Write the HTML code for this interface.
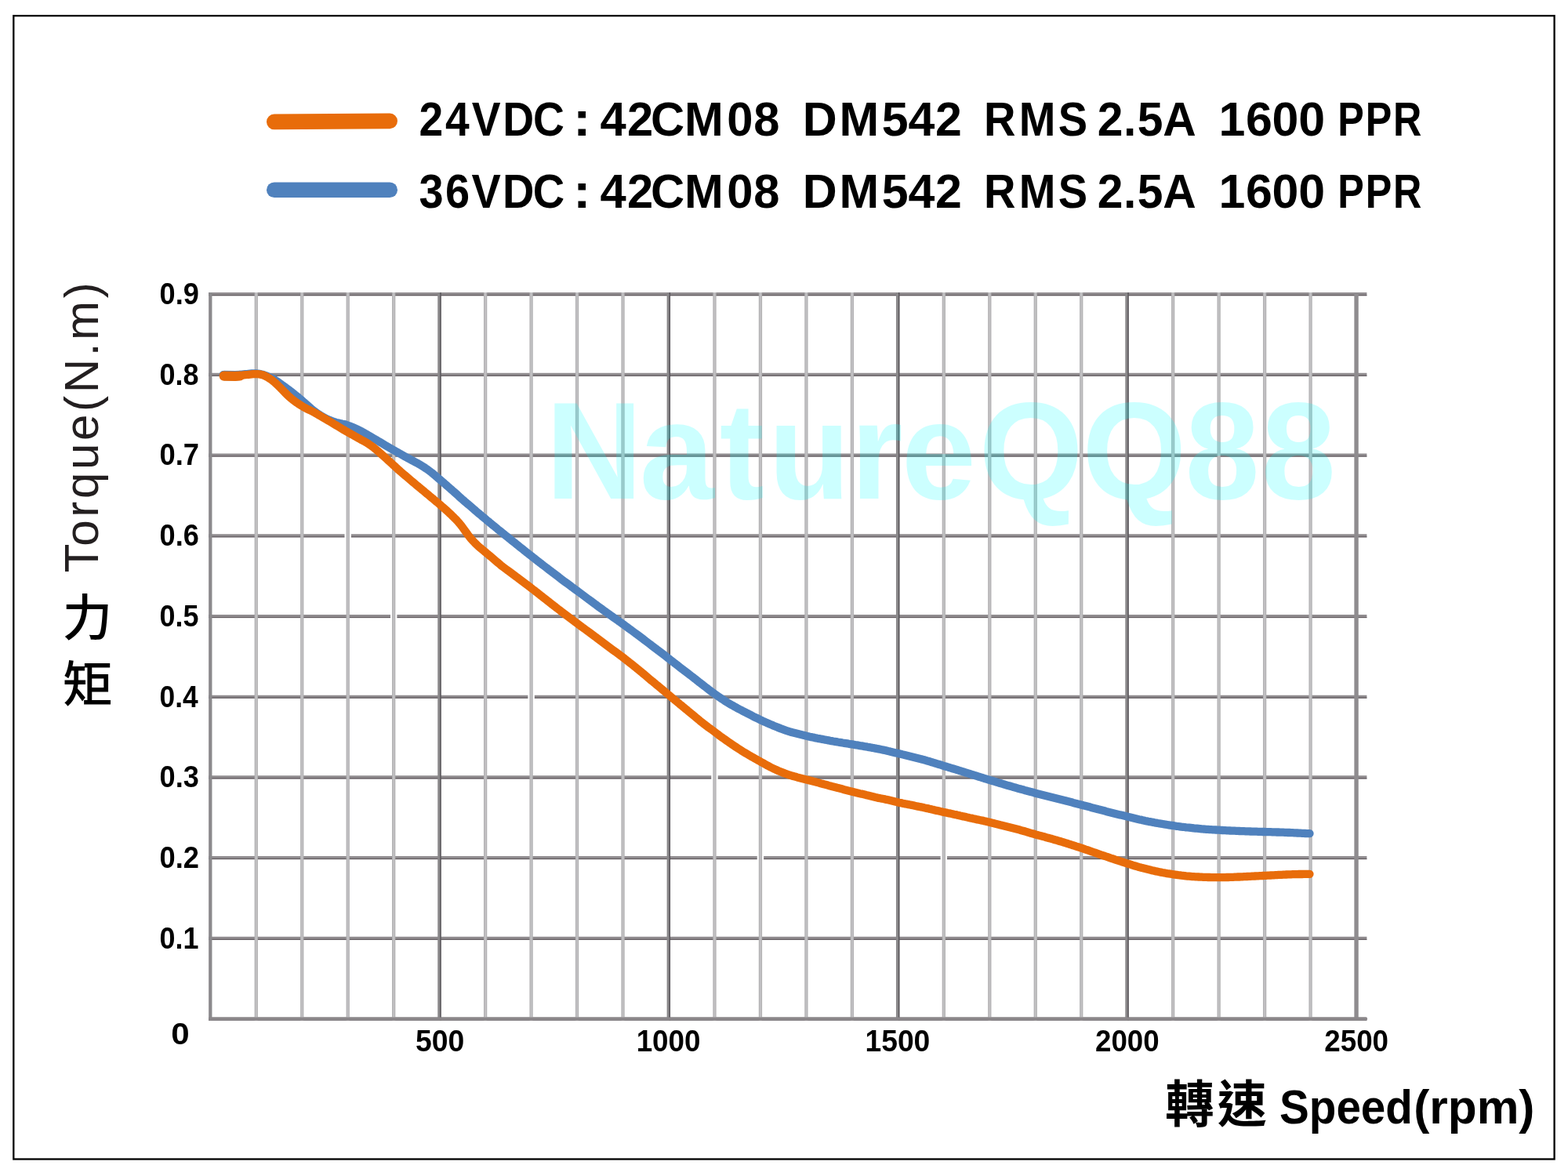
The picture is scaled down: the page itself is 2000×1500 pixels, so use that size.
<!DOCTYPE html>
<html lang="zh-Hant"><head><meta charset="utf-8"><title>42CM08 Torque-Speed Curve</title>
<style>html,body{margin:0;padding:0;background:#fff}body{width:2000px;height:1500px;overflow:hidden}svg{display:block}</style></head><body>
<svg width="2000" height="1500" viewBox="0 0 2000 1500" font-family="&quot;Liberation Sans&quot;, sans-serif" font-weight="700" fill="#000" role="img" aria-label="Torque-speed curve of 42CM08 with DM542 at 24VDC and 36VDC">
<rect width="2000" height="1500" fill="#fff"/>
<g fill="none">
<path d="M266.15 375.20H1743.4 M266.15 477.91H1743.4 M266.15 580.62H1743.4 M266.15 683.33H1743.4 M266.15 786.04H1743.4 M266.15 888.75H1743.4 M266.15 991.46H1743.4 M266.15 1094.17H1743.4 M266.15 1196.88H1743.4 M266.15 1299.59H1743.4" stroke="#908c8f" stroke-width="4.2"/>
<path d="M266.15 376.60H1743.4 M266.15 479.31H1743.4 M266.15 582.02H1743.4 M266.15 684.73H1743.4 M266.15 787.44H1743.4 M266.15 890.15H1743.4 M266.15 992.86H1743.4 M266.15 1095.57H1743.4 M266.15 1198.28H1743.4 M266.15 1300.99H1743.4" stroke="#4b4347" stroke-width="1.1" opacity="0.7"/>
<path d="M497.98 786.04h8.4 M673.39 888.75h8.4 M907.27 991.46h8.4 M965.74 1094.17h8.4 M1199.62 1094.17h8.4 M439.51 683.33h8.4" stroke="#fff" stroke-width="6"/>
<path d="M326.77 373.1V1301.7 M385.24 373.1V1301.7 M443.71 373.1V1301.7 M502.18 373.1V1301.7 M619.12 373.1V1301.7 M677.59 373.1V1301.7 M736.06 373.1V1301.7 M794.53 373.1V1301.7 M911.47 373.1V1301.7 M969.94 373.1V1301.7 M1028.41 373.1V1301.7 M1086.88 373.1V1301.7 M1203.82 373.1V1301.7 M1262.29 373.1V1301.7 M1320.76 373.1V1301.7 M1379.23 373.1V1301.7 M1496.17 373.1V1301.7 M1554.64 373.1V1301.7 M1613.11 373.1V1301.7 M1671.58 373.1V1301.7" stroke="#b3b2b4" stroke-width="4.3"/>
<path d="M326.77 373.1V1301.7 M385.24 373.1V1301.7 M443.71 373.1V1301.7 M502.18 373.1V1301.7 M619.12 373.1V1301.7 M677.59 373.1V1301.7 M736.06 373.1V1301.7 M794.53 373.1V1301.7 M911.47 373.1V1301.7 M969.94 373.1V1301.7 M1028.41 373.1V1301.7 M1086.88 373.1V1301.7 M1203.82 373.1V1301.7 M1262.29 373.1V1301.7 M1320.76 373.1V1301.7 M1379.23 373.1V1301.7 M1496.17 373.1V1301.7 M1554.64 373.1V1301.7 M1613.11 373.1V1301.7 M1671.58 373.1V1301.7" stroke="#c3c2c4" stroke-width="1.8"/>
<path d="M560.45 373.1V1301.7 M852.80 373.1V1301.7 M1145.15 373.1V1301.7 M1437.50 373.1V1301.7" stroke="#8a888a" stroke-width="4.4"/>
<path d="M562.00 373.1V1301.7 M854.35 373.1V1301.7 M1146.70 373.1V1301.7 M1439.05 373.1V1301.7" stroke="#49454a" stroke-width="1.3" opacity="0.85"/>
<path d="M268.30 373.1V1301.7" stroke="#8b898c" stroke-width="4.3"/>
<path d="M1730.05 373.1V1301.7" stroke="#8f8c8f" stroke-width="5.4"/>
<path d="M268.34999999999997 1299.59H1741.9" stroke="#8b878a" stroke-width="4.3" stroke-linecap="round"/>
</g>
<text transform="translate(696.00 636.00) scale(0.9723 1)" x="0 123.06 228.02 292.08 400.22 466.79 568.27 703.83 838.66 938.63" font-size="176" fill="#00ffff" fill-opacity="0.2">NatureQQ88</text>
<g fill="none" stroke-width="10.3" stroke-linecap="round" stroke-linejoin="round">
<path d="M284.8 478.2 L286.8 478.4 L288.8 478.5 L290.8 478.5 L292.8 478.5 L294.8 478.5 L296.8 478.5 L298.8 478.4 L300.8 478.3 L302.8 478.2 L304.8 478.0 L306.8 477.8 L308.8 477.6 L310.8 477.4 L312.8 477.2 L314.8 477.0 L316.8 476.8 L318.8 476.6 L320.8 476.5 L322.8 476.4 L324.8 476.4 L326.8 476.5 L328.8 476.6 L330.8 476.9 L332.8 477.3 L334.8 477.7 L336.8 478.4 L338.8 479.1 L340.8 479.9 L342.8 480.7 L344.8 481.6 L346.8 482.5 L348.8 483.6 L350.8 484.7 L352.8 486.0 L354.8 487.4 L356.8 488.9 L358.8 490.3 L360.8 491.8 L362.8 493.2 L364.8 494.7 L366.8 496.1 L368.8 497.6 L370.8 499.2 L372.8 500.7 L374.8 502.3 L376.8 503.9 L378.8 505.5 L380.8 507.1 L382.8 508.8 L384.8 510.5 L386.8 512.3 L388.8 514.0 L390.8 515.8 L392.8 517.6 L394.8 519.4 L396.8 521.2 L398.8 522.9 L400.8 524.4 L402.8 525.9 L404.8 527.2 L406.8 528.6 L408.8 529.9 L410.8 531.1 L412.8 532.2 L414.8 533.3 L416.8 534.3 L418.8 535.3 L420.8 536.1 L422.8 536.9 L424.8 537.6 L426.8 538.3 L428.8 538.9 L430.8 539.4 L432.8 539.8 L434.8 540.2 L436.8 540.7 L438.8 541.1 L440.8 541.6 L442.8 542.3 L444.8 543.0 L446.8 543.7 L448.8 544.5 L450.8 545.4 L452.8 546.2 L454.8 547.1 L456.8 548.1 L458.8 549.1 L460.8 550.1 L462.8 551.2 L464.8 552.3 L466.8 553.5 L468.8 554.6 L470.8 555.8 L472.8 556.9 L474.8 558.1 L476.8 559.3 L478.8 560.5 L480.8 561.6 L482.8 562.8 L484.8 564.0 L486.8 565.2 L488.8 566.4 L490.8 567.6 L492.8 568.8 L494.8 569.9 L496.8 571.1 L498.8 572.3 L500.8 573.4 L502.8 574.6 L504.8 575.7 L506.8 576.8 L508.8 577.9 L510.8 579.1 L512.8 580.2 L514.8 581.3 L516.8 582.5 L518.8 583.6 L520.8 584.7 L522.8 585.7 L524.8 586.8 L526.8 587.8 L528.8 588.9 L530.8 590.0 L532.8 591.1 L534.8 592.2 L536.8 593.4 L538.8 594.6 L540.8 595.8 L542.8 597.2 L544.8 598.5 L546.8 600.0 L548.8 601.5 L550.8 603.0 L552.8 604.7 L554.8 606.3 L556.8 608.0 L558.8 609.8 L560.8 611.5 L562.8 613.2 L564.8 614.9 L566.8 616.7 L568.8 618.4 L570.8 620.2 L572.8 621.9 L574.8 623.6 L576.8 625.4 L578.8 627.1 L580.8 628.9 L582.8 630.7 L584.8 632.5 L586.8 634.4 L588.8 636.2 L590.8 637.9 L592.8 639.7 L594.8 641.3 L596.8 643.0 L598.8 644.7 L600.8 646.4 L602.8 648.1 L604.8 649.8 L606.8 651.6 L608.8 653.3 L610.8 655.0 L612.8 656.7 L614.8 658.4 L616.8 660.0 L618.8 661.7 L620.8 663.4 L622.8 665.0 L624.8 666.7 L626.8 668.3 L628.8 670.0 L630.8 671.6 L632.8 673.2 L634.8 674.9 L636.8 676.5 L638.8 678.1 L640.8 679.7 L642.8 681.3 L644.8 682.9 L646.8 684.5 L648.8 686.2 L650.8 687.8 L652.8 689.4 L654.8 691.0 L656.8 692.6 L658.8 694.2 L660.8 695.8 L662.8 697.4 L664.8 699.0 L666.8 700.6 L668.8 702.2 L670.8 703.8 L672.8 705.3 L674.8 706.9 L676.8 708.5 L678.8 710.1 L680.8 711.7 L682.8 713.2 L684.8 714.8 L686.8 716.3 L688.8 717.9 L690.8 719.4 L692.8 721.0 L694.8 722.5 L696.8 724.0 L698.8 725.6 L700.8 727.1 L702.8 728.6 L704.8 730.2 L706.8 731.7 L708.8 733.2 L710.8 734.7 L712.8 736.2 L714.8 737.8 L716.8 739.3 L718.8 740.8 L720.8 742.3 L722.8 743.7 L724.8 745.2 L726.8 746.7 L728.8 748.2 L730.8 749.6 L732.8 751.1 L734.8 752.6 L736.8 754.0 L738.8 755.5 L740.8 757.0 L742.8 758.5 L744.8 760.0 L746.8 761.5 L748.8 763.0 L750.8 764.5 L752.8 765.9 L754.8 767.4 L756.8 768.9 L758.8 770.4 L760.8 771.8 L762.8 773.3 L764.8 774.8 L766.8 776.2 L768.8 777.7 L770.8 779.1 L772.8 780.5 L774.8 782.0 L776.8 783.4 L778.8 784.9 L780.8 786.3 L782.8 787.7 L784.8 789.1 L786.8 790.5 L788.8 792.0 L790.8 793.4 L792.8 794.8 L794.8 796.2 L796.8 797.7 L798.8 799.1 L800.8 800.6 L802.8 802.1 L804.8 803.5 L806.8 805.0 L808.8 806.5 L810.8 808.0 L812.8 809.4 L814.8 810.9 L816.8 812.4 L818.8 813.9 L820.8 815.4 L822.8 817.0 L824.8 818.5 L826.8 820.0 L828.8 821.5 L830.8 823.1 L832.8 824.6 L834.8 826.1 L836.8 827.6 L838.8 829.2 L840.8 830.7 L842.8 832.2 L844.8 833.7 L846.8 835.2 L848.8 836.7 L850.8 838.3 L852.8 839.8 L854.8 841.4 L856.8 843.0 L858.8 844.6 L860.8 846.1 L862.8 847.7 L864.8 849.2 L866.8 850.8 L868.8 852.3 L870.8 853.8 L872.8 855.4 L874.8 856.9 L876.8 858.4 L878.8 859.9 L880.8 861.5 L882.8 863.0 L884.8 864.6 L886.8 866.1 L888.8 867.7 L890.8 869.3 L892.8 870.8 L894.8 872.4 L896.8 873.9 L898.8 875.5 L900.8 877.0 L902.8 878.6 L904.8 880.1 L906.8 881.6 L908.8 883.1 L910.8 884.5 L912.8 886.0 L914.8 887.4 L916.8 888.8 L918.8 890.1 L920.8 891.5 L922.8 892.8 L924.8 894.1 L926.8 895.4 L928.8 896.6 L930.8 897.8 L932.8 899.0 L934.8 900.1 L936.8 901.2 L938.8 902.3 L940.8 903.4 L942.8 904.5 L944.8 905.5 L946.8 906.6 L948.8 907.6 L950.8 908.6 L952.8 909.7 L954.8 910.7 L956.8 911.7 L958.8 912.7 L960.8 913.8 L962.8 914.8 L964.8 915.7 L966.8 916.7 L968.8 917.7 L970.8 918.6 L972.8 919.6 L974.8 920.5 L976.8 921.4 L978.8 922.3 L980.8 923.1 L982.8 924.0 L984.8 924.8 L986.8 925.7 L988.8 926.5 L990.8 927.3 L992.8 928.1 L994.8 928.9 L996.8 929.7 L998.8 930.4 L1000.8 931.1 L1002.8 931.8 L1004.8 932.5 L1006.8 933.1 L1008.8 933.7 L1010.8 934.3 L1012.8 934.8 L1014.8 935.3 L1016.8 935.8 L1018.8 936.3 L1020.8 936.8 L1022.8 937.3 L1024.8 937.8 L1026.8 938.3 L1028.8 938.8 L1030.8 939.2 L1032.8 939.7 L1034.8 940.1 L1036.8 940.5 L1038.8 940.9 L1040.8 941.4 L1042.8 941.8 L1044.8 942.1 L1046.8 942.5 L1048.8 942.9 L1050.8 943.3 L1052.8 943.7 L1054.8 944.0 L1056.8 944.4 L1058.8 944.8 L1060.8 945.1 L1062.8 945.5 L1064.8 945.8 L1066.8 946.1 L1068.8 946.5 L1070.8 946.8 L1072.8 947.1 L1074.8 947.5 L1076.8 947.8 L1078.8 948.1 L1080.8 948.4 L1082.8 948.8 L1084.8 949.1 L1086.8 949.4 L1088.8 949.7 L1090.8 950.1 L1092.8 950.4 L1094.8 950.7 L1096.8 951.1 L1098.8 951.4 L1100.8 951.7 L1102.8 952.1 L1104.8 952.4 L1106.8 952.8 L1108.8 953.1 L1110.8 953.5 L1112.8 953.9 L1114.8 954.2 L1116.8 954.6 L1118.8 955.0 L1120.8 955.4 L1122.8 955.8 L1124.8 956.2 L1126.8 956.6 L1128.8 957.0 L1130.8 957.5 L1132.8 958.0 L1134.8 958.4 L1136.8 958.9 L1138.8 959.4 L1140.8 959.9 L1142.8 960.4 L1144.8 960.8 L1146.8 961.3 L1148.8 961.8 L1150.8 962.3 L1152.8 962.7 L1154.8 963.2 L1156.8 963.7 L1158.8 964.2 L1160.8 964.7 L1162.8 965.2 L1164.8 965.7 L1166.8 966.2 L1168.8 966.7 L1170.8 967.2 L1172.8 967.7 L1174.8 968.2 L1176.8 968.8 L1178.8 969.3 L1180.8 969.9 L1182.8 970.5 L1184.8 971.0 L1186.8 971.6 L1188.8 972.3 L1190.8 972.9 L1192.8 973.5 L1194.8 974.1 L1196.8 974.7 L1198.8 975.3 L1200.8 975.9 L1202.8 976.6 L1204.8 977.2 L1206.8 977.8 L1208.8 978.4 L1210.8 979.0 L1212.8 979.6 L1214.8 980.2 L1216.8 980.8 L1218.8 981.4 L1220.8 982.0 L1222.8 982.6 L1224.8 983.3 L1226.8 983.9 L1228.8 984.5 L1230.8 985.1 L1232.8 985.8 L1234.8 986.4 L1236.8 987.0 L1238.8 987.6 L1240.8 988.3 L1242.8 988.9 L1244.8 989.5 L1246.8 990.1 L1248.8 990.8 L1250.8 991.4 L1252.8 992.0 L1254.8 992.6 L1256.8 993.3 L1258.8 993.9 L1260.8 994.5 L1262.8 995.1 L1264.8 995.7 L1266.8 996.3 L1268.8 996.9 L1270.8 997.5 L1272.8 998.1 L1274.8 998.7 L1276.8 999.3 L1278.8 999.9 L1280.8 1000.5 L1282.8 1001.1 L1284.8 1001.7 L1286.8 1002.2 L1288.8 1002.8 L1290.8 1003.4 L1292.8 1004.0 L1294.8 1004.5 L1296.8 1005.1 L1298.8 1005.7 L1300.8 1006.2 L1302.8 1006.8 L1304.8 1007.3 L1306.8 1007.9 L1308.8 1008.4 L1310.8 1009.0 L1312.8 1009.5 L1314.8 1010.1 L1316.8 1010.6 L1318.8 1011.1 L1320.8 1011.7 L1322.8 1012.2 L1324.8 1012.7 L1326.8 1013.2 L1328.8 1013.7 L1330.8 1014.2 L1332.8 1014.7 L1334.8 1015.2 L1336.8 1015.7 L1338.8 1016.2 L1340.8 1016.7 L1342.8 1017.2 L1344.8 1017.7 L1346.8 1018.2 L1348.8 1018.7 L1350.8 1019.2 L1352.8 1019.7 L1354.8 1020.2 L1356.8 1020.7 L1358.8 1021.2 L1360.8 1021.8 L1362.8 1022.3 L1364.8 1022.8 L1366.8 1023.3 L1368.8 1023.9 L1370.8 1024.4 L1372.8 1024.9 L1374.8 1025.5 L1376.8 1026.0 L1378.8 1026.5 L1380.8 1027.0 L1382.8 1027.6 L1384.8 1028.1 L1386.8 1028.6 L1388.8 1029.1 L1390.8 1029.6 L1392.8 1030.2 L1394.8 1030.7 L1396.8 1031.2 L1398.8 1031.7 L1400.8 1032.3 L1402.8 1032.8 L1404.8 1033.3 L1406.8 1033.8 L1408.8 1034.3 L1410.8 1034.9 L1412.8 1035.4 L1414.8 1035.9 L1416.8 1036.4 L1418.8 1036.9 L1420.8 1037.4 L1422.8 1037.9 L1424.8 1038.4 L1426.8 1038.9 L1428.8 1039.4 L1430.8 1039.8 L1432.8 1040.3 L1434.8 1040.8 L1436.8 1041.3 L1438.8 1041.8 L1440.8 1042.2 L1442.8 1042.7 L1444.8 1043.2 L1446.8 1043.7 L1448.8 1044.2 L1450.8 1044.7 L1452.8 1045.2 L1454.8 1045.6 L1456.8 1046.1 L1458.8 1046.5 L1460.8 1047.0 L1462.8 1047.4 L1464.8 1047.8 L1466.8 1048.1 L1468.8 1048.5 L1470.8 1048.9 L1472.8 1049.3 L1474.8 1049.6 L1476.8 1050.0 L1478.8 1050.3 L1480.8 1050.7 L1482.8 1051.0 L1484.8 1051.3 L1486.8 1051.7 L1488.8 1052.0 L1490.8 1052.3 L1492.8 1052.6 L1494.8 1052.9 L1496.8 1053.2 L1498.8 1053.5 L1500.8 1053.8 L1502.8 1054.0 L1504.8 1054.3 L1506.8 1054.6 L1508.8 1054.8 L1510.8 1055.0 L1512.8 1055.3 L1514.8 1055.5 L1516.8 1055.7 L1518.8 1055.9 L1520.8 1056.1 L1522.8 1056.4 L1524.8 1056.6 L1526.8 1056.7 L1528.8 1056.9 L1530.8 1057.1 L1532.8 1057.3 L1534.8 1057.5 L1536.8 1057.6 L1538.8 1057.8 L1540.8 1057.9 L1542.8 1058.1 L1544.8 1058.2 L1546.8 1058.3 L1548.8 1058.4 L1550.8 1058.5 L1552.8 1058.6 L1554.8 1058.7 L1556.8 1058.9 L1558.8 1059.0 L1560.8 1059.1 L1562.8 1059.2 L1564.8 1059.3 L1566.8 1059.4 L1568.8 1059.5 L1570.8 1059.6 L1572.8 1059.7 L1574.8 1059.7 L1576.8 1059.8 L1578.8 1059.9 L1580.8 1060.0 L1582.8 1060.1 L1584.8 1060.1 L1586.8 1060.2 L1588.8 1060.3 L1590.8 1060.4 L1592.8 1060.4 L1594.8 1060.5 L1596.8 1060.6 L1598.8 1060.6 L1600.8 1060.7 L1602.8 1060.7 L1604.8 1060.8 L1606.8 1060.9 L1608.8 1060.9 L1610.8 1061.0 L1612.8 1061.0 L1614.8 1061.1 L1616.8 1061.1 L1618.8 1061.2 L1620.8 1061.2 L1622.8 1061.3 L1624.8 1061.4 L1626.8 1061.4 L1628.8 1061.5 L1630.8 1061.5 L1632.8 1061.6 L1634.8 1061.7 L1636.8 1061.7 L1638.8 1061.8 L1640.8 1061.9 L1642.8 1062.0 L1644.8 1062.0 L1646.8 1062.1 L1648.8 1062.2 L1650.8 1062.3 L1652.8 1062.4 L1654.8 1062.5 L1656.8 1062.6 L1658.8 1062.7 L1660.8 1062.8 L1662.8 1062.9 L1664.8 1063.0 L1666.8 1063.1 L1668.8 1063.1 L1670.5 1063.2" stroke="#4f81bd"/>
<path d="M285.8 479.0L300 479.2L306 478.9" stroke="#4f81bd" stroke-width="12.4"/>
<path d="M284.8 479.0 L286.8 479.1 L288.8 479.2 L290.8 479.3 L292.8 479.3 L294.8 479.4 L296.8 479.4 L298.8 479.4 L300.8 479.4 L302.8 479.3 L304.8 479.1 L306.8 478.9 L308.8 478.7 L310.8 478.4 L312.8 478.2 L314.8 478.0 L316.8 477.8 L318.8 477.6 L320.8 477.4 L322.8 477.2 L324.8 477.1 L326.8 477.1 L328.8 477.2 L330.8 477.4 L332.8 477.7 L334.8 478.2 L336.8 478.9 L338.8 479.9 L340.8 480.9 L342.8 482.1 L344.8 483.4 L346.8 484.8 L348.8 486.4 L350.8 488.1 L352.8 489.9 L354.8 491.8 L356.8 493.8 L358.8 495.9 L360.8 497.9 L362.8 500.0 L364.8 502.0 L366.8 504.0 L368.8 505.9 L370.8 507.7 L372.8 509.3 L374.8 510.8 L376.8 512.3 L378.8 513.8 L380.8 515.1 L382.8 516.4 L384.8 517.7 L386.8 518.9 L388.8 520.0 L390.8 521.1 L392.8 522.1 L394.8 523.0 L396.8 524.0 L398.8 525.0 L400.8 526.1 L402.8 527.2 L404.8 528.3 L406.8 529.5 L408.8 530.7 L410.8 531.9 L412.8 533.1 L414.8 534.2 L416.8 535.4 L418.8 536.5 L420.8 537.7 L422.8 538.9 L424.8 540.1 L426.8 541.3 L428.8 542.5 L430.8 543.7 L432.8 544.9 L434.8 546.1 L436.8 547.3 L438.8 548.5 L440.8 549.7 L442.8 550.8 L444.8 551.9 L446.8 553.1 L448.8 554.2 L450.8 555.3 L452.8 556.4 L454.8 557.6 L456.8 558.7 L458.8 559.8 L460.8 560.9 L462.8 562.0 L464.8 563.1 L466.8 564.2 L468.8 565.4 L470.8 566.7 L472.8 568.1 L474.8 569.5 L476.8 571.1 L478.8 572.7 L480.8 574.3 L482.8 576.0 L484.8 577.8 L486.8 579.6 L488.8 581.4 L490.8 583.2 L492.8 585.0 L494.8 586.8 L496.8 588.6 L498.8 590.4 L500.8 592.3 L502.8 594.1 L504.8 595.9 L506.8 597.8 L508.8 599.6 L510.8 601.4 L512.8 603.1 L514.8 604.8 L516.8 606.5 L518.8 608.2 L520.8 609.9 L522.8 611.6 L524.8 613.3 L526.8 615.0 L528.8 616.7 L530.8 618.4 L532.8 620.0 L534.8 621.7 L536.8 623.3 L538.8 625.0 L540.8 626.6 L542.8 628.3 L544.8 630.0 L546.8 631.6 L548.8 633.3 L550.8 635.0 L552.8 636.6 L554.8 638.3 L556.8 640.0 L558.8 641.6 L560.8 643.3 L562.8 645.1 L564.8 646.8 L566.8 648.6 L568.8 650.4 L570.8 652.2 L572.8 654.1 L574.8 655.9 L576.8 657.9 L578.8 659.8 L580.8 661.8 L582.8 663.9 L584.8 666.1 L586.8 668.5 L588.8 671.0 L590.8 673.7 L592.8 676.5 L594.8 679.3 L596.8 682.1 L598.8 684.7 L600.8 687.1 L602.8 689.4 L604.8 691.5 L606.8 693.6 L608.8 695.5 L610.8 697.3 L612.8 699.0 L614.8 700.7 L616.8 702.3 L618.8 704.0 L620.8 705.7 L622.8 707.3 L624.8 709.0 L626.8 710.7 L628.8 712.4 L630.8 714.1 L632.8 715.8 L634.8 717.5 L636.8 719.2 L638.8 720.9 L640.8 722.5 L642.8 724.0 L644.8 725.5 L646.8 727.0 L648.8 728.4 L650.8 729.9 L652.8 731.4 L654.8 732.9 L656.8 734.4 L658.8 735.9 L660.8 737.3 L662.8 738.8 L664.8 740.3 L666.8 741.8 L668.8 743.3 L670.8 744.8 L672.8 746.3 L674.8 747.9 L676.8 749.4 L678.8 751.0 L680.8 752.5 L682.8 754.1 L684.8 755.6 L686.8 757.2 L688.8 758.8 L690.8 760.3 L692.8 761.9 L694.8 763.5 L696.8 765.1 L698.8 766.7 L700.8 768.2 L702.8 769.8 L704.8 771.3 L706.8 772.9 L708.8 774.4 L710.8 776.0 L712.8 777.5 L714.8 779.1 L716.8 780.7 L718.8 782.2 L720.8 783.7 L722.8 785.2 L724.8 786.7 L726.8 788.2 L728.8 789.7 L730.8 791.2 L732.8 792.7 L734.8 794.1 L736.8 795.6 L738.8 797.1 L740.8 798.6 L742.8 800.1 L744.8 801.5 L746.8 803.0 L748.8 804.5 L750.8 805.9 L752.8 807.4 L754.8 808.9 L756.8 810.4 L758.8 811.9 L760.8 813.3 L762.8 814.8 L764.8 816.3 L766.8 817.8 L768.8 819.3 L770.8 820.8 L772.8 822.3 L774.8 823.8 L776.8 825.3 L778.8 826.8 L780.8 828.3 L782.8 829.8 L784.8 831.2 L786.8 832.7 L788.8 834.2 L790.8 835.7 L792.8 837.1 L794.8 838.7 L796.8 840.2 L798.8 841.8 L800.8 843.3 L802.8 844.9 L804.8 846.5 L806.8 848.1 L808.8 849.7 L810.8 851.3 L812.8 852.9 L814.8 854.6 L816.8 856.2 L818.8 857.8 L820.8 859.5 L822.8 861.2 L824.8 862.9 L826.8 864.6 L828.8 866.3 L830.8 868.0 L832.8 869.6 L834.8 871.2 L836.8 872.9 L838.8 874.5 L840.8 876.2 L842.8 877.8 L844.8 879.5 L846.8 881.2 L848.8 882.9 L850.8 884.6 L852.8 886.2 L854.8 887.9 L856.8 889.6 L858.8 891.3 L860.8 892.9 L862.8 894.6 L864.8 896.2 L866.8 897.9 L868.8 899.5 L870.8 901.2 L872.8 902.8 L874.8 904.5 L876.8 906.1 L878.8 907.8 L880.8 909.4 L882.8 911.1 L884.8 912.7 L886.8 914.4 L888.8 916.1 L890.8 917.7 L892.8 919.4 L894.8 921.0 L896.8 922.6 L898.8 924.1 L900.8 925.7 L902.8 927.2 L904.8 928.6 L906.8 930.0 L908.8 931.5 L910.8 933.0 L912.8 934.5 L914.8 936.0 L916.8 937.6 L918.8 939.1 L920.8 940.5 L922.8 941.9 L924.8 943.3 L926.8 944.7 L928.8 946.1 L930.8 947.5 L932.8 948.9 L934.8 950.2 L936.8 951.6 L938.8 952.9 L940.8 954.2 L942.8 955.5 L944.8 956.8 L946.8 958.1 L948.8 959.3 L950.8 960.5 L952.8 961.7 L954.8 962.9 L956.8 964.1 L958.8 965.2 L960.8 966.3 L962.8 967.4 L964.8 968.6 L966.8 969.7 L968.8 970.8 L970.8 971.9 L972.8 973.0 L974.8 974.1 L976.8 975.3 L978.8 976.4 L980.8 977.4 L982.8 978.5 L984.8 979.5 L986.8 980.5 L988.8 981.4 L990.8 982.3 L992.8 983.2 L994.8 984.0 L996.8 984.8 L998.8 985.6 L1000.8 986.4 L1002.8 987.1 L1004.8 987.8 L1006.8 988.5 L1008.8 989.1 L1010.8 989.7 L1012.8 990.3 L1014.8 990.8 L1016.8 991.4 L1018.8 991.9 L1020.8 992.4 L1022.8 992.9 L1024.8 993.4 L1026.8 993.9 L1028.8 994.4 L1030.8 994.9 L1032.8 995.4 L1034.8 995.9 L1036.8 996.5 L1038.8 997.0 L1040.8 997.5 L1042.8 998.1 L1044.8 998.6 L1046.8 999.2 L1048.8 999.7 L1050.8 1000.3 L1052.8 1000.8 L1054.8 1001.3 L1056.8 1001.9 L1058.8 1002.4 L1060.8 1003.0 L1062.8 1003.5 L1064.8 1004.0 L1066.8 1004.5 L1068.8 1005.1 L1070.8 1005.6 L1072.8 1006.1 L1074.8 1006.6 L1076.8 1007.2 L1078.8 1007.7 L1080.8 1008.2 L1082.8 1008.7 L1084.8 1009.2 L1086.8 1009.7 L1088.8 1010.2 L1090.8 1010.7 L1092.8 1011.2 L1094.8 1011.7 L1096.8 1012.2 L1098.8 1012.6 L1100.8 1013.1 L1102.8 1013.6 L1104.8 1014.1 L1106.8 1014.5 L1108.8 1015.0 L1110.8 1015.5 L1112.8 1016.0 L1114.8 1016.5 L1116.8 1017.0 L1118.8 1017.4 L1120.8 1017.9 L1122.8 1018.3 L1124.8 1018.7 L1126.8 1019.0 L1128.8 1019.4 L1130.8 1019.9 L1132.8 1020.3 L1134.8 1020.8 L1136.8 1021.3 L1138.8 1021.8 L1140.8 1022.3 L1142.8 1022.8 L1144.8 1023.2 L1146.8 1023.7 L1148.8 1024.1 L1150.8 1024.6 L1152.8 1025.0 L1154.8 1025.4 L1156.8 1025.7 L1158.8 1026.1 L1160.8 1026.5 L1162.8 1026.9 L1164.8 1027.3 L1166.8 1027.8 L1168.8 1028.2 L1170.8 1028.6 L1172.8 1029.0 L1174.8 1029.4 L1176.8 1029.8 L1178.8 1030.3 L1180.8 1030.7 L1182.8 1031.1 L1184.8 1031.6 L1186.8 1032.0 L1188.8 1032.5 L1190.8 1032.9 L1192.8 1033.4 L1194.8 1033.9 L1196.8 1034.3 L1198.8 1034.8 L1200.8 1035.2 L1202.8 1035.7 L1204.8 1036.1 L1206.8 1036.5 L1208.8 1037.0 L1210.8 1037.4 L1212.8 1037.8 L1214.8 1038.2 L1216.8 1038.7 L1218.8 1039.1 L1220.8 1039.6 L1222.8 1040.0 L1224.8 1040.5 L1226.8 1040.9 L1228.8 1041.4 L1230.8 1041.8 L1232.8 1042.3 L1234.8 1042.7 L1236.8 1043.2 L1238.8 1043.6 L1240.8 1044.1 L1242.8 1044.5 L1244.8 1044.9 L1246.8 1045.4 L1248.8 1045.8 L1250.8 1046.2 L1252.8 1046.6 L1254.8 1047.1 L1256.8 1047.5 L1258.8 1048.0 L1260.8 1048.4 L1262.8 1048.9 L1264.8 1049.4 L1266.8 1049.9 L1268.8 1050.5 L1270.8 1051.0 L1272.8 1051.5 L1274.8 1052.0 L1276.8 1052.6 L1278.8 1053.1 L1280.8 1053.6 L1282.8 1054.1 L1284.8 1054.6 L1286.8 1055.1 L1288.8 1055.6 L1290.8 1056.1 L1292.8 1056.6 L1294.8 1057.1 L1296.8 1057.6 L1298.8 1058.1 L1300.8 1058.6 L1302.8 1059.2 L1304.8 1059.7 L1306.8 1060.3 L1308.8 1060.9 L1310.8 1061.5 L1312.8 1062.1 L1314.8 1062.7 L1316.8 1063.2 L1318.8 1063.8 L1320.8 1064.4 L1322.8 1064.9 L1324.8 1065.5 L1326.8 1066.0 L1328.8 1066.5 L1330.8 1067.1 L1332.8 1067.6 L1334.8 1068.2 L1336.8 1068.7 L1338.8 1069.3 L1340.8 1069.8 L1342.8 1070.4 L1344.8 1071.0 L1346.8 1071.6 L1348.8 1072.1 L1350.8 1072.7 L1352.8 1073.3 L1354.8 1073.9 L1356.8 1074.5 L1358.8 1075.1 L1360.8 1075.7 L1362.8 1076.4 L1364.8 1077.0 L1366.8 1077.6 L1368.8 1078.3 L1370.8 1078.9 L1372.8 1079.6 L1374.8 1080.2 L1376.8 1080.9 L1378.8 1081.5 L1380.8 1082.2 L1382.8 1082.9 L1384.8 1083.6 L1386.8 1084.2 L1388.8 1084.9 L1390.8 1085.6 L1392.8 1086.3 L1394.8 1087.0 L1396.8 1087.7 L1398.8 1088.4 L1400.8 1089.1 L1402.8 1089.8 L1404.8 1090.5 L1406.8 1091.2 L1408.8 1091.8 L1410.8 1092.5 L1412.8 1093.2 L1414.8 1093.9 L1416.8 1094.6 L1418.8 1095.2 L1420.8 1095.9 L1422.8 1096.6 L1424.8 1097.2 L1426.8 1097.9 L1428.8 1098.5 L1430.8 1099.2 L1432.8 1099.8 L1434.8 1100.5 L1436.8 1101.1 L1438.8 1101.7 L1440.8 1102.3 L1442.8 1102.9 L1444.8 1103.6 L1446.8 1104.2 L1448.8 1104.8 L1450.8 1105.4 L1452.8 1106.0 L1454.8 1106.5 L1456.8 1107.1 L1458.8 1107.6 L1460.8 1108.1 L1462.8 1108.6 L1464.8 1109.1 L1466.8 1109.6 L1468.8 1110.1 L1470.8 1110.5 L1472.8 1110.9 L1474.8 1111.4 L1476.8 1111.8 L1478.8 1112.2 L1480.8 1112.6 L1482.8 1113.0 L1484.8 1113.3 L1486.8 1113.7 L1488.8 1114.1 L1490.8 1114.4 L1492.8 1114.7 L1494.8 1115.0 L1496.8 1115.3 L1498.8 1115.6 L1500.8 1115.9 L1502.8 1116.2 L1504.8 1116.4 L1506.8 1116.7 L1508.8 1116.9 L1510.8 1117.1 L1512.8 1117.4 L1514.8 1117.6 L1516.8 1117.7 L1518.8 1117.9 L1520.8 1118.1 L1522.8 1118.2 L1524.8 1118.3 L1526.8 1118.4 L1528.8 1118.5 L1530.8 1118.6 L1532.8 1118.7 L1534.8 1118.8 L1536.8 1118.9 L1538.8 1118.9 L1540.8 1119.0 L1542.8 1119.0 L1544.8 1119.1 L1546.8 1119.1 L1548.8 1119.1 L1550.8 1119.2 L1552.8 1119.2 L1554.8 1119.2 L1556.8 1119.2 L1558.8 1119.1 L1560.8 1119.1 L1562.8 1119.1 L1564.8 1119.0 L1566.8 1119.0 L1568.8 1118.9 L1570.8 1118.8 L1572.8 1118.8 L1574.8 1118.7 L1576.8 1118.6 L1578.8 1118.5 L1580.8 1118.5 L1582.8 1118.4 L1584.8 1118.3 L1586.8 1118.2 L1588.8 1118.1 L1590.8 1118.0 L1592.8 1117.9 L1594.8 1117.8 L1596.8 1117.7 L1598.8 1117.6 L1600.8 1117.5 L1602.8 1117.4 L1604.8 1117.3 L1606.8 1117.2 L1608.8 1117.1 L1610.8 1117.0 L1612.8 1116.9 L1614.8 1116.8 L1616.8 1116.7 L1618.8 1116.6 L1620.8 1116.5 L1622.8 1116.4 L1624.8 1116.3 L1626.8 1116.2 L1628.8 1116.1 L1630.8 1115.9 L1632.8 1115.8 L1634.8 1115.8 L1636.8 1115.7 L1638.8 1115.6 L1640.8 1115.5 L1642.8 1115.4 L1644.8 1115.4 L1646.8 1115.3 L1648.8 1115.2 L1650.8 1115.2 L1652.8 1115.1 L1654.8 1115.1 L1656.8 1115.0 L1658.8 1115.0 L1660.8 1115.0 L1662.8 1114.9 L1664.8 1114.9 L1666.8 1114.8 L1668.8 1114.8 L1670.5 1114.8" stroke="#e86c0a"/>
<path d="M285.8 479.7L300 479.9L306 479.5" stroke="#e86c0a" stroke-width="12.2"/>
</g>
<g fill="none" stroke-width="19.6" stroke-linecap="round">
<path d="M349.8 155.4L497.2 154.4" stroke="#e86c0a"/>
<path d="M349.8 242.3L497.2 242.3" stroke="#4f81bd"/>
</g>
<text transform="translate(534.47 172.90) scale(0.9049 1)" x="0 37.08 74.45 117.99 160.9" font-size="61">24VDC</text>
<text transform="translate(730.99 172.90) scale(1.1084 1)" font-size="61">:</text>
<text transform="translate(765.59 172.90) scale(0.9794 1)" x="0 35.23 65.71 109.58 164.99 199.67" font-size="61">42CM08</text>
<text transform="translate(1023.85 172.90) scale(0.9973 1)" x="0 46.86 101.23 134.92 169.52" font-size="61">DM542</text>
<text transform="translate(1255.06 172.90) scale(0.9183 1)" x="0 48.72 103.11" font-size="61">RMS</text>
<text transform="translate(1399.76 172.90) scale(0.9639 1)" x="0 34.6 52.86 86.55" font-size="61">2.5A</text>
<text transform="translate(1554.51 172.90) scale(0.9973 1)" x="0 34.57 68.2 101.99" font-size="61">1600</text>
<text transform="translate(1706.16 172.90) scale(0.8244 1)" x="0 43.21 85.88" font-size="61">PPR</text>
<text transform="translate(534.47 264.90) scale(0.9166 1)" x="0 36.67 73.24 116.19 158.56" font-size="61">36VDC</text>
<text transform="translate(730.99 264.90) scale(1.1084 1)" font-size="61">:</text>
<text transform="translate(765.59 264.90) scale(0.9794 1)" x="0 35.23 65.71 109.58 164.99 199.67" font-size="61">42CM08</text>
<text transform="translate(1023.85 264.90) scale(0.9973 1)" x="0 46.86 101.23 134.92 169.52" font-size="61">DM542</text>
<text transform="translate(1255.06 264.90) scale(0.9183 1)" x="0 48.72 103.11" font-size="61">RMS</text>
<text transform="translate(1399.76 264.90) scale(0.9639 1)" x="0 34.6 52.86 86.55" font-size="61">2.5A</text>
<text transform="translate(1554.51 264.90) scale(0.9973 1)" x="0 34.57 68.2 101.99" font-size="61">1600</text>
<text transform="translate(1706.16 264.90) scale(0.8244 1)" x="0 43.21 85.88" font-size="61">PPR</text>
<text transform="translate(203.57 388.00) scale(0.9519 1)" font-size="38">0.9</text>
<text transform="translate(203.58 490.71) scale(0.9474 1)" font-size="38">0.8</text>
<text transform="translate(203.56 593.42) scale(0.9568 1)" font-size="38">0.7</text>
<text transform="translate(203.57 696.13) scale(0.9513 1)" font-size="38">0.6</text>
<text transform="translate(203.58 798.84) scale(0.9453 1)" font-size="38">0.5</text>
<text transform="translate(203.60 901.55) scale(0.9294 1)" font-size="38">0.4</text>
<text transform="translate(203.57 1004.26) scale(0.9513 1)" font-size="38">0.3</text>
<text transform="translate(203.57 1106.97) scale(0.9540 1)" font-size="38">0.2</text>
<text transform="translate(203.58 1209.68) scale(0.9452 1)" font-size="38">0.1</text>
<text transform="translate(218.34 1332.30) scale(1.1070 1)" font-size="38">0</text>
<text transform="translate(530.06 1341.30) scale(0.9829 1)" font-size="38">500</text>
<text transform="translate(811.68 1341.30) scale(0.9679 1)" font-size="38">1000</text>
<text transform="translate(1103.50 1341.30) scale(0.9803 1)" font-size="38">1500</text>
<text transform="translate(1397.03 1341.30) scale(0.9649 1)" font-size="38">2000</text>
<text transform="translate(1689.27 1341.30) scale(0.9674 1)" font-size="38">2500</text>
<text transform="translate(1486.25 1430.98) scale(0.6246 0.6341)" font-size="100" font-family="&quot;Liberation Sans&quot;, &quot;Noto Sans CJK TC&quot;, &quot;Noto Sans CJK SC&quot;, sans-serif">轉</text><text transform="translate(1552.76 1431.11) scale(0.6292 0.6356)" font-size="100" font-family="&quot;Liberation Sans&quot;, &quot;Noto Sans CJK TC&quot;, &quot;Noto Sans CJK SC&quot;, sans-serif">速</text>
<text transform="translate(1632.07 1432.60) scale(0.9205 1)" font-size="61.5">Speed</text><text transform="translate(1803.18 1432.60) scale(0.9820 1)" font-size="61.5">(rpm)</text>
<text transform="translate(79.76 809.86) scale(0.6344 0.6290)" font-size="100" font-weight="500" font-family="&quot;Liberation Sans&quot;, &quot;Noto Sans CJK TC&quot;, &quot;Noto Sans CJK SC&quot;, sans-serif">力</text><text transform="translate(79.93 895.27) scale(0.6328 0.6264)" font-size="100" font-weight="500" font-family="&quot;Liberation Sans&quot;, &quot;Noto Sans CJK TC&quot;, &quot;Noto Sans CJK SC&quot;, sans-serif">矩</text>
<text transform="translate(125.40 730.36) rotate(-90) scale(0.9854 1)" font-size="61" font-weight="400" letter-spacing="3.66" fill="#231f20">Torque(N.m)</text>
<rect x="17.3" y="20.1" width="1965.3" height="1458.4" fill="none" stroke="#000" stroke-width="2.3"/>
</svg></body></html>
